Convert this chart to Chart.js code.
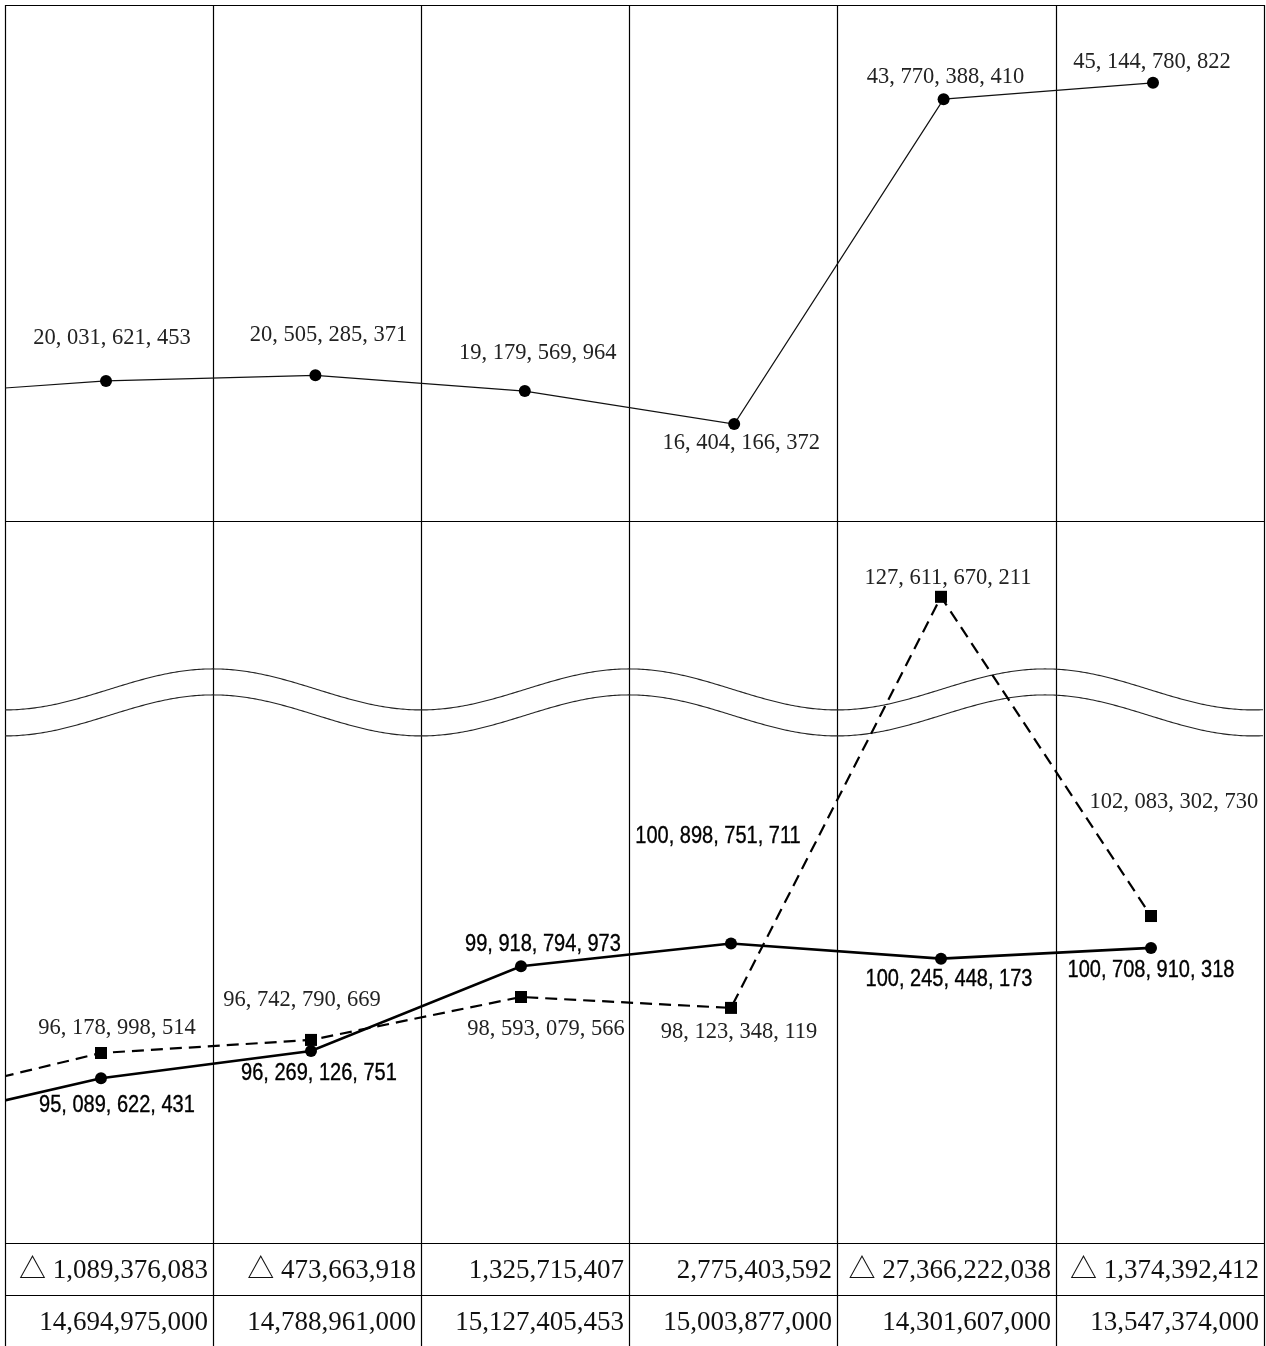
<!DOCTYPE html>
<html lang="ja">
<head>
<meta charset="utf-8">
<title>決算額の推移</title>
<script src="https://cdn.jsdelivr.net/npm/chart.js@4/dist/chart.umd.min.js"></script>
<style>
  html, body { margin: 0; padding: 0; background: #fff; overflow: hidden; }
  #wrap { width: 1266px; height: 1346px; }
  canvas { display: block; }
</style>
</head>
<body>
<div id="wrap"><canvas id="chart" width="1266" height="1346"></canvas></div>
<script>
// ---- data (yen) -------------------------------------------------------
// Column positions 0..5; each line also continues from the preceding period (-1).
const periods = [0, 1, 2, 3, 4, 5];
const precedingPeriod = -1;

// upper panel
const upperValues = [20031621453, 20505285371, 19179569964, 16404166372, 43770388410, 45144780822];
const upperPreceding = 18800000000;

// lower panel, solid line with circles
const solidValues = [95089622431, 96269126751, 99918794973, 100898751711, 100245448173, 100708910318];
const solidPreceding = 93000000000;

// lower panel, dashed line with squares
const dashedValues = [96178998514, 96742790669, 98593079566, 98123348119, 127611670211, 102083302730];
const dashedPreceding = 94000000000;

// table rows under the chart
const differenceRow = [-1089376083, -473663918, 1325715407, 2775403592, -27366222038, -1374392412];
const amountRow = [14694975000, 14788961000, 15127405453, 15003877000, 14301607000, 13547374000];

// ---- layout -----------------------------------------------------------
const FRAME = { left: 5, right: 1264, top: 5, split: 521, tableTop: 1243, rowSplit: 1295, bottom: 1346 };
const COLUMN_EDGES = [5, 213, 421, 629, 837, 1056, 1264];

const SERIF = '"Liberation Serif", "Noto Sans CJK JP", serif';
const SANS = '"Liberation Sans", "Noto Sans CJK JP", sans-serif';

// ---- helpers ----------------------------------------------------------
const groupDigits = (n, sep) => Math.abs(n).toString().replace(/\B(?=(\d{3})+(?!\d))/g, sep);
const pointLabel = v => groupDigits(v, ', ');
const cellText = v => (v < 0 ? '△ ' : '') + groupDigits(v, ',');
const toPoints = (preceding, values) =>
  [{ x: precedingPeriod, y: preceding }].concat(periods.map((p, i) => ({ x: p, y: values[i] })));

// Linear scale with a collapsed band of values (the wavy break in the lower panel)
class BrokenLinearScale extends Chart.LinearScale {
  static id = 'brokenLinear';
  static defaults = Chart.LinearScale.defaults;
  _squeeze(v) {
    const { breakFrom, breakTo } = this.options;
    if (v <= breakFrom) return v;
    if (v >= breakTo) return v - (breakTo - breakFrom);
    return breakFrom;
  }
  getPixelForValue(value) {
    const lo = this._squeeze(this.min), hi = this._squeeze(this.max);
    return this.getPixelForDecimal((this._squeeze(value) - lo) / (hi - lo));
  }
  getValueForPixel(pixel) {
    const lo = this._squeeze(this.min), hi = this._squeeze(this.max);
    const c = lo + this.getDecimalForPixel(pixel) * (hi - lo);
    const { breakFrom, breakTo } = this.options;
    return c <= breakFrom ? c : c + (breakTo - breakFrom);
  }
}
Chart.register(BrokenLinearScale);

// Frame, column rules and the wavy break
const framePlugin = {
  id: 'frame',
  beforeDatasetsDraw(chart) {
    const ctx = chart.ctx;
    ctx.save();
    ctx.strokeStyle = '#000';
    ctx.lineWidth = 1.2;
    ctx.beginPath();
    COLUMN_EDGES.forEach(x => {
      ctx.moveTo(x + 0.5, FRAME.top);
      ctx.lineTo(x + 0.5, FRAME.bottom);
    });
    [FRAME.top, FRAME.split, FRAME.tableTop, FRAME.rowSplit].forEach(y => {
      ctx.moveTo(FRAME.left, y + 0.5);
      ctx.lineTo(FRAME.right + 1, y + 0.5);
    });
    ctx.stroke();

    // break marks: a pair of waves centred on the collapsed band
    const yScale = chart.scales.yLower;
    const mid = yScale.getPixelForValue(yScale.options.breakFrom);
    const amp = 20.5, period = 416, gap = 13;
    ctx.lineWidth = 1.1;
    ctx.strokeStyle = '#222';
    [-gap, gap].forEach(off => {
      ctx.beginPath();
      for (let x = FRAME.left; x <= FRAME.right; x += 2) {
        const y = mid + off + amp * Math.cos(2 * Math.PI * (x - FRAME.left) / period);
        if (x === FRAME.left) ctx.moveTo(x, y); else ctx.lineTo(x, y);
      }
      ctx.stroke();
    });
    ctx.restore();
  },
  afterDraw(chart) {
    const ctx = chart.ctx;
    ctx.save();
    ctx.fillStyle = '#111';
    ctx.font = '27px ' + SERIF;
    ctx.textAlign = 'right';
    ctx.textBaseline = 'middle';
    const rows = [
      { values: differenceRow, y: (FRAME.tableTop + FRAME.rowSplit) / 2 + 2 },
      { values: amountRow, y: (FRAME.rowSplit + FRAME.bottom) / 2 + 2 }
    ];
    rows.forEach(row => {
      row.values.forEach((v, i) => ctx.fillText(cellText(v), COLUMN_EDGES[i + 1] - 5, row.y));
    });
    ctx.restore();
  }
};

// Value labels next to each point
const valueLabelPlugin = {
  id: 'valueLabels',
  afterDatasetsDraw(chart) {
    const ctx = chart.ctx;
    chart.data.datasets.forEach((ds, di) => {
      const cfg = ds.valueLabels;
      if (!cfg) return;
      const meta = chart.getDatasetMeta(di);
      ctx.save();
      ctx.font = cfg.font;
      ctx.fillStyle = cfg.color;
      ctx.strokeStyle = cfg.color;
      ctx.lineWidth = cfg.weight || 0;
      ctx.textAlign = 'center';
      ctx.textBaseline = 'middle';
      meta.data.forEach((pt, j) => {
        const raw = ds.data[j];
        if (raw.x === precedingPeriod) return;
        const [dx, dy] = cfg.offsets[j - 1];
        const text = pointLabel(raw.y);
        ctx.save();
        ctx.translate(pt.x + dx, pt.y + dy);
        ctx.scale(cfg.scaleX, 1);
        ctx.fillText(text, 0, 0);
        if (cfg.weight) ctx.strokeText(text, 0, 0);
        ctx.restore();
      });
      ctx.restore();
    });
  }
};

function build() {
  new Chart(document.getElementById('chart'), {
    type: 'line',
    data: {
      datasets: [
        {
          label: 'upper',
          data: toPoints(upperPreceding, upperValues),
          xAxisID: 'xUpper', yAxisID: 'yUpper',
          borderColor: '#111', borderWidth: 1.2,
          pointStyle: 'circle', pointRadius: 6, pointBorderWidth: 0,
          pointBackgroundColor: '#000',
          valueLabels: {
            font: '22.5px ' + SERIF, color: '#222', scaleX: 1,
            offsets: [[6, -43], [13, -40], [13, -38], [7, 19], [2, -22], [-1, -21]]
          }
        },
        {
          label: 'solid',
          data: toPoints(solidPreceding, solidValues),
          xAxisID: 'xLower', yAxisID: 'yLower',
          borderColor: '#000', borderWidth: 2.6,
          pointStyle: 'circle', pointRadius: 6, pointBorderWidth: 0,
          pointBackgroundColor: '#000',
          valueLabels: {
            font: '23px ' + SANS, color: '#000', scaleX: 0.87, weight: 0.35,
            offsets: [[16, 27], [8, 23], [22, -22], [-13, -107], [8, 21], [0, 23]]
          }
        },
        {
          label: 'dashed',
          data: toPoints(dashedPreceding, dashedValues),
          xAxisID: 'xLower', yAxisID: 'yLower',
          borderColor: '#000', borderWidth: 2.2, borderDash: [12, 7],
          pointStyle: 'rect', pointRadius: 8.5, pointBorderWidth: 0,
          pointBackgroundColor: '#000',
          valueLabels: {
            font: '22.5px ' + SERIF, color: '#222', scaleX: 1,
            offsets: [[16, -25], [-9, -40], [25, 32], [8, 24], [7, -19], [23, -114]]
          }
        }
      ]
    },
    options: {
      responsive: false,
      animation: false,
      events: [],
      layout: { autoPadding: false, padding: { left: 5, right: 2, top: 5, bottom: 103 } },
      plugins: { legend: { display: false }, tooltip: { enabled: false } },
      elements: { line: { tension: 0 } },
      scales: {
        xUpper: { type: 'linear', display: false, min: -0.4823, max: 5.5301 },
        xLower: { type: 'linear', display: false, min: -0.4571, max: 5.5381 },
        yUpper: { type: 'linear', display: false, bounds: 'data', min: -52.594e9, max: 51.703e9 },
        yLower: {
          type: 'brokenLinear', display: false, bounds: 'data',
          min: 87.99e9, max: 153.12e9,
          breakFrom: 111.29e9, breakTo: 123.06e9
        }
      }
    },
    plugins: [framePlugin, valueLabelPlugin]
  });
}

const fontLoads = ['22px "Liberation Serif"', '22px "Liberation Sans"', '22px "Noto Sans CJK JP"']
  .map(f => document.fonts.load(f, '0,△'));
Promise.all(fontLoads).then(build, build);
</script>
</body>
</html>
